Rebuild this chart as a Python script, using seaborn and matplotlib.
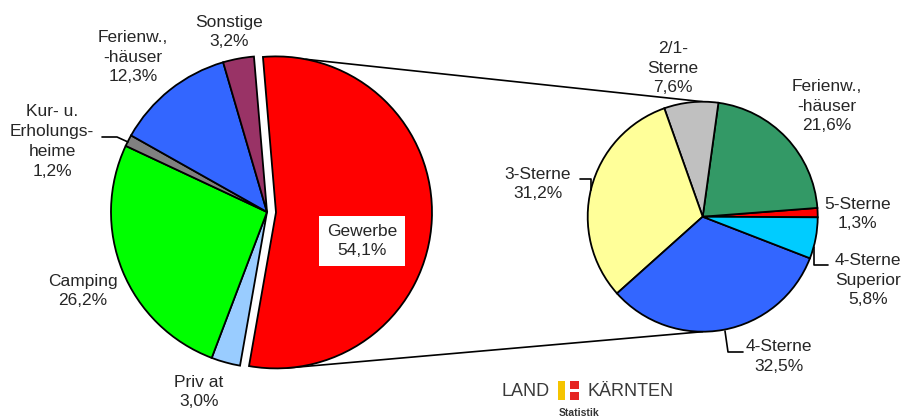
import numpy as np
import matplotlib
matplotlib.use("Agg")
import matplotlib.pyplot as plt
from matplotlib.patches import Rectangle
import seaborn as sns

# ---- data ----
left_labels = ["Gewerbe", "Priv at", "Camping", "Kur- u.\nErholungs-\nheime", "Ferienw.,\n-häuser", "Sonstige"]
left_values = [54.1, 3.0, 26.2, 1.2, 12.3, 3.2]
left_colors = ["#FF0000", "#99CCFF", "#00FF00", "#808080", "#3366FF", "#993366"]

right_labels = ["5-Sterne", "Ferienw.,\n-häuser", "2/1-\nSterne", "3-Sterne", "4-Sterne", "4-Sterne\nSuperior"]
right_values = [1.3, 21.6, 7.6, 31.2, 32.5, 5.8]
right_colors = ["#FF0000", "#339966", "#C0C0C0", "#FFFF99", "#3366FF", "#00CCFF"]

def fmt(v):
    return f"{v:.1f}".replace(".", ",") + "%"

sns.set_style("white")
plt.rcParams["font.family"] = ["Liberation Sans", "DejaVu Sans"]

W, H = 903, 419
fig = plt.figure(figsize=(W / 100, H / 100), dpi=100)
ax = fig.add_axes([0, 0, 1, 1])

def Y(y):
    return H - y

wp = dict(edgecolor="black", linewidth=1.3)

# left pie (explode given in data units = pixels here)
lc = (267, Y(212))
lr = 156
expl = 9
ax.pie(left_values, colors=left_colors, startangle=94.8, counterclock=False,
       center=lc, radius=lr, explode=[expl, 0, 0, 0, 0, 0], wedgeprops=wp, frame=True)

# right pie
rc = (702.7, Y(216.7))
rr = 115
ax.pie(right_values, colors=right_colors, startangle=-0.3, counterclock=True,
       center=rc, radius=rr, wedgeprops=wp, frame=True)

# connector lines (from exploded Gewerbe arc to secondary pie)
apex = (lc[0] + expl * np.cos(np.radians(-2.6)), lc[1] + expl * np.sin(np.radians(-2.6)))
for ang, tgt in [(79, (rc[0], rc[1] + rr)), (-86, (rc[0], rc[1] - rr))]:
    p = (apex[0] + lr * np.cos(np.radians(ang)), apex[1] + lr * np.sin(np.radians(ang)))
    ax.plot([p[0], tgt[0]], [p[1], tgt[1]], color="black", lw=1.2, zorder=0.5)

fs = 12.5
ls = 1.4
# left labels
lpos = {0: (362, 241), 1: (199, 392), 2: (83, 291), 3: (52, 141.5), 4: (133, 57), 5: (229, 32)}
for i, (lab, v) in enumerate(zip(left_labels, left_values)):
    x, y = lpos[i]
    kw = {}
    if i == 0:
        kw["bbox"] = dict(boxstyle="square,pad=0.45", facecolor="white", edgecolor="none")
    ax.text(x, Y(y), lab + "\n" + fmt(v), ha="center", va="center", fontsize=fs,
            linespacing=ls, zorder=5, **kw)

# right labels
rpos = {0: (857.7, 214), 1: (826.7, 106), 2: (672.7, 68), 3: (538, 184), 4: (779, 356.5), 5: (867.7, 280)}
for i, (lab, v) in enumerate(zip(right_labels, right_values)):
    x, y = rpos[i]
    ax.text(x, Y(y), lab + "\n" + fmt(v), ha="center", va="center", fontsize=fs,
            linespacing=ls, zorder=5)

# leader lines
leaders = [
    [(102, 137), (117, 137), (128, 142)],
    [(580, 179), (591, 179), (591, 190)],
    [(814.3, 247), (814.3, 265), (828, 265)],
    [(725, 331), (728, 352), (743, 352)],
]
for pts in leaders:
    ax.plot([p[0] for p in pts], [Y(p[1]) for p in pts], color="black", lw=1.2, zorder=4)

# logo
ax.text(502, Y(391), "LAND", ha="left", va="center", fontsize=13, color="#3a3a3a")
ax.text(588, Y(391), "KÄRNTEN", ha="left", va="center", fontsize=13, color="#3a3a3a")
ax.add_patch(Rectangle((558, Y(400)), 7, 19, facecolor="#F5C400", edgecolor="none"))
ax.add_patch(Rectangle((570, Y(389)), 9, 8, facecolor="#E52521", edgecolor="none"))
ax.add_patch(Rectangle((570, Y(400)), 9, 8, facecolor="#E52521", edgecolor="none"))
ax.text(579, Y(413), "Statistik", ha="center", va="center", fontsize=7.5,
        fontweight="bold", color="#333333")

ax.set_xlim(0, W)
ax.set_ylim(0, H)
ax.set_aspect("equal")
ax.set_axis_off()
fig.savefig("out.png", dpi=100, facecolor="white")
